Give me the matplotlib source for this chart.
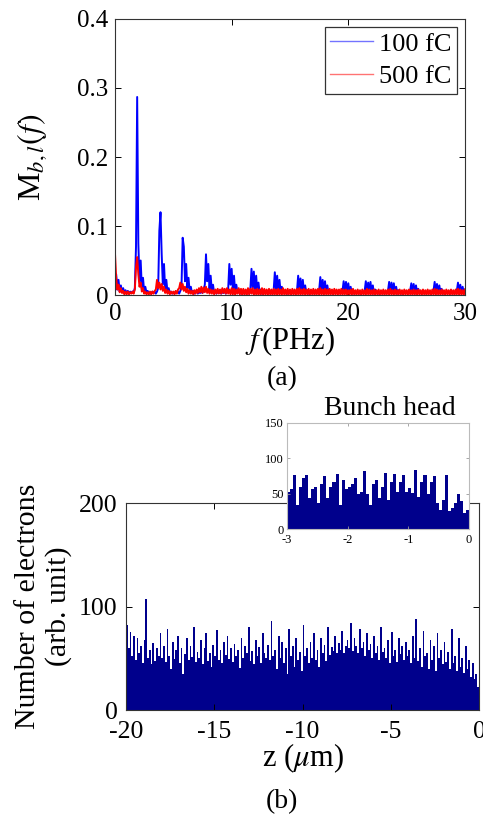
import matplotlib
matplotlib.use("Agg")
import matplotlib.pyplot as plt
import numpy as np

plt.rcParams['font.family'] = ['Liberation Serif', 'DejaVu Serif']
plt.rcParams['mathtext.fontset'] = 'stix'
plt.rcParams['axes.unicode_minus'] = False

# ---- panel (a): bunching spectrum, values in units of 1e-3, f = 0..30 PHz step 0.1
freq = np.round(np.arange(0, 30.05, 0.1), 1)
blue_milli = [
    4, 30, 8, 22, 5, 14, 4, 10, 3, 7,
    3, 6, 2, 5, 3, 5, 4, 10, 70, 287,
    75, 20, 50, 10, 25, 5, 12, 3, 6, 2,
    4, 2, 5, 3, 5, 2, 5, 10, 93, 120,
    60, 15, 45, 8, 22, 4, 10, 3, 5, 2,
    4, 2, 5, 3, 5, 2, 6, 12, 83, 70,
    20, 45, 10, 25, 5, 12, 3, 6, 2, 4,
    5, 2, 4, 3, 5, 3, 8, 15, 59, 20,
    45, 8, 28, 5, 15, 3, 6, 2, 5, 3,
    4, 2, 4, 3, 5, 2, 5, 8, 45, 15,
    38, 6, 28, 4, 15, 3, 8, 2, 5, 3,
    4, 2, 4, 3, 4, 2, 8, 38, 10, 34,
    5, 28, 4, 18, 3, 8, 2, 4, 3, 4,
    5, 2, 5, 3, 5, 2, 7, 33, 8, 28,
    4, 22, 3, 12, 4, 6, 3, 5, 2, 5,
    4, 2, 4, 3, 4, 2, 6, 28, 6, 24,
    3, 22, 4, 14, 3, 7, 2, 5, 3, 4,
    5, 2, 5, 3, 5, 7, 26, 4, 22, 3,
    20, 4, 14, 3, 7, 3, 4, 2, 4, 5,
    4, 2, 4, 3, 4, 6, 20, 3, 19, 4,
    17, 3, 12, 2, 6, 2, 5, 3, 5, 2,
    5, 2, 5, 3, 6, 20, 3, 18, 4, 19,
    3, 14, 2, 8, 3, 5, 2, 4, 3, 5,
    4, 2, 4, 3, 6, 19, 3, 18, 4, 17,
    3, 12, 2, 7, 3, 4, 2, 4, 3, 5,
    4, 2, 4, 6, 17, 3, 16, 2, 14, 3,
    9, 3, 5, 2, 4, 3, 4, 2, 5, 3,
    5, 2, 4, 6, 19, 3, 16, 2, 14, 3,
    9, 2, 5, 2, 4, 3, 4, 2, 5, 3,
    4, 2, 4, 6, 18, 3, 15, 2, 12, 3,
    8,
]
red_milli = [
    60, 25, 8, 15, 4, 10, 3, 6, 1, 5,
    1, 5, 1, 4, 2, 5, 2, 8, 40, 55,
    30, 12, 18, 5, 10, 2, 5, 1, 4, 1,
    5, 1, 5, 2, 6, 8, 22, 10, 18, 8,
    16, 6, 12, 3, 8, 2, 6, 1, 5, 2,
    5, 1, 6, 2, 8, 10, 18, 8, 16, 6,
    12, 4, 9, 2, 7, 2, 6, 1, 7, 2,
    8, 3, 10, 4, 12, 3, 11, 4, 12, 3,
    9, 2, 8, 2, 7, 1, 8, 2, 9, 2,
    8, 2, 10, 3, 9, 2, 10, 2, 8, 1,
    10, 1, 9, 0, 8, 2, 10, 1, 9, 0,
    9, 1, 8, 0, 10, 1, 9, 2, 10, 0,
    8, 1, 9, 0, 8, 1, 10, 0, 9, 1,
    8, 0, 9, 1, 8, 0, 9, 1, 8, 0,
    9, 1, 8, 0, 10, 1, 8, 0, 9, 1,
    8, 0, 9, 1, 8, 0, 9, 1, 10, 0,
    8, 1, 9, 0, 8, 1, 9, 0, 8, 1,
    9, 0, 8, 1, 9, 0, 10, 1, 8, 0,
    9, 1, 8, 0, 9, 1, 8, 0, 9, 1,
    8, 0, 8, 1, 9, 0, 8, 1, 8, 0,
    7, 1, 8, 0, 9, 1, 7, 0, 8, 1,
    7, 0, 8, 1, 7, 0, 9, 1, 8, 0,
    7, 1, 8, 0, 7, 1, 8, 0, 7, 1,
    8, 0, 7, 1, 8, 0, 9, 1, 7, 0,
    8, 1, 7, 0, 8, 1, 7, 0, 8, 1,
    7, 0, 8, 1, 7, 0, 8, 1, 7, 0,
    8, 1, 7, 0, 8, 1, 7, 0, 8, 1,
    7, 0, 8, 1, 9, 0, 8, 1, 7, 0,
    8, 1, 7, 0, 8, 1, 7, 0, 8, 1,
    7, 0, 8, 1, 9, 0, 8, 1, 7, 0,
    8,
]
series_labels = ['100 fC', '500 fC']

# ---- panel (b): electron count per 0.1 um bin, z = -20..0
z_edges = np.round(np.arange(-20, 0, 0.1), 1)
counts = [
    82, 60, 75, 52, 72, 48, 70, 55, 62, 45, 68, 107, 50, 58, 44, 65, 47, 60, 52, 74,
    50, 62, 46, 78, 52, 40, 66, 49, 58, 72, 45, 60, 35, 54, 70, 48, 62, 51, 80, 46,
    56, 50, 68, 44, 60, 74, 47, 55, 42, 63, 52, 77, 48, 58, 45, 66, 53, 72, 49, 60,
    46, 64, 52, 58, 41, 70, 50, 62, 55, 80, 47, 57, 44, 68, 52, 61, 45, 74, 55, 50,
    63, 48, 86, 52, 58, 40, 72, 50, 66, 45, 60, 35, 78, 52, 62, 42, 70, 48, 56, 38,
    82, 52, 60, 45, 66, 50, 74, 48, 58, 42, 70, 55, 63, 47, 80, 53, 61, 57, 72, 55,
    65, 58, 76, 55, 62, 68, 60, 84, 57, 70, 62, 55, 78, 60, 66, 52, 74, 58, 64, 50,
    72, 55, 62, 48, 80, 56, 60, 50, 68, 45, 75, 52, 58, 46, 70, 54, 62, 48, 66, 52,
    58, 45, 72, 50, 88, 47, 60, 42, 76, 52, 55, 40, 68, 48, 62, 38, 74, 50, 58, 44,
    66, 46, 56, 40, 78, 45, 52, 38, 70, 42, 50, 36, 62, 40, 48, 32, 45, 30, 35, 22,
]

# ---- inset: bunch head, 0.05 um bins, z = -3..0
head_edges = np.round(np.arange(-3, 0, 0.05), 2)
head_counts = [
    53, 56, 76, 34, 60, 72, 77, 44, 56, 59,
    37, 63, 75, 44, 60, 67, 78, 34, 70, 56,
    60, 63, 72, 49, 53, 82, 49, 34, 63, 70,
    44, 60, 79, 41, 67, 78, 53, 67, 77, 53,
    58, 51, 83, 46, 67, 77, 49, 67, 75, 37,
    27, 41, 76, 25, 30, 37, 49, 39, 23, 27,
]

navy = '#00008C'

fig = plt.figure(figsize=(4.83, 8.15), dpi=100)

# panel (a)
ax1 = fig.add_axes([0.2381, 0.6380, 0.7246, 0.3387])
ax1.plot(freq, np.array(blue_milli) / 1000, color='#0000FF', lw=1.4, label=series_labels[0])
ax1.plot(freq, np.array(red_milli) / 1000, color='#FF0000', lw=1.4, label=series_labels[1])
ax1.set_xlim(0, 30)
ax1.set_ylim(0, 0.4)
ax1.set_xticks([0, 10, 20, 30])
ax1.set_yticks([0, 0.1, 0.2, 0.3, 0.4])
ax1.set_yticklabels(['0', '0.1', '0.2', '0.3', '0.4'])
ax1.tick_params(direction='in', top=True, right=True, labelsize=18, length=4, width=0.7)
ax1.tick_params(axis='y', pad=5)
ax1.tick_params(axis='x', pad=6)
ax1.set_xlabel(r'$f\,$(PHz)', fontsize=22, labelpad=-1)
ax1.set_ylabel(r'M$_{b,l}(f)$', fontsize=23)
ax1.yaxis.set_label_coords(-0.19, 0.5)
for s in ax1.spines.values():
    s.set_color('#333333')
    s.set_linewidth(0.8)
leg = ax1.legend(loc='upper right', fontsize=19, frameon=True, fancybox=False,
                 edgecolor='#333333', framealpha=1, handlelength=1.6,
                 handletextpad=0.25, borderpad=0.2, labelspacing=0.35,
                 borderaxespad=0.3)
leg.get_frame().set_linewidth(0.9)
for line in leg.get_lines():
    line.set_linewidth(1.0)
    line.set_alpha(0.55)

fig.text(0.584, 0.5350, '(a)', fontsize=20, ha='center', va='center')

# panel (b)
ax2 = fig.add_axes([0.2609, 0.1288, 0.7308, 0.2540])
ax2.bar(z_edges, counts, width=0.1, align='edge', color=navy, linewidth=0)
ax2.set_xlim(-20, 0)
ax2.set_ylim(0, 200)
ax2.set_xticks([-20, -15, -10, -5, 0])
ax2.set_yticks([0, 100, 200])
ax2.tick_params(direction='in', top=True, right=True, labelsize=18.5, length=4, width=0.7)
ax2.tick_params(axis='y', pad=6)
ax2.tick_params(axis='x', pad=8)
ax2.set_xlabel(r'z ($\mu$m)', fontsize=22, labelpad=-1)
ax2.set_ylabel('Number of electrons\n(arb. unit)', fontsize=21.5, linespacing=1.2)
ax2.yaxis.set_label_coords(-0.153, 0.5)
for s in ax2.spines.values():
    s.set_color('#333333')
    s.set_linewidth(0.8)

fig.text(0.584, 0.016, '(b)', fontsize=20, ha='center', va='center')

# inset
ax3 = fig.add_axes([0.5942, 0.3509, 0.3768, 0.1301])
ax3.bar(head_edges, head_counts, width=0.05, align='edge', color=navy, linewidth=0)
ax3.set_xlim(-3, 0)
ax3.set_ylim(0, 150)
ax3.set_xticks([-3, -2, -1, 0])
ax3.set_yticks([0, 50, 100, 150])
ax3.tick_params(direction='in', top=True, right=True, labelsize=9, length=2.5,
                width=0.6, color='#999999')
ax3.tick_params(axis='x', pad=3.5)
ax3.tick_params(axis='y', pad=2.5)
for s in ax3.spines.values():
    s.set_color('#bbbbbb')
    s.set_linewidth(0.8)

fig.text(0.8075, 0.4908, 'Bunch head', fontsize=20, ha='center', va='baseline')

fig.savefig('out.png', dpi=100)
